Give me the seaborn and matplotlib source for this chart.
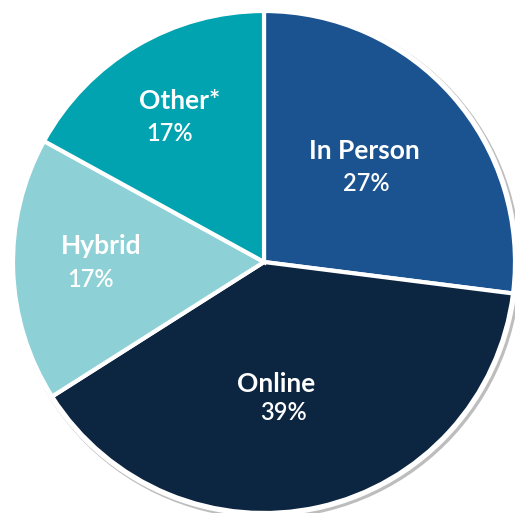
import matplotlib
matplotlib.use('Agg')
import matplotlib.pyplot as plt
import seaborn as sns
from matplotlib.patches import Circle

# data
categories = ['In Person', 'Online', 'Hybrid', 'Other*']
shares = [27, 39, 17, 17]
colors = ['#1B5391', '#0C2540', '#8DD1D6', '#00A3AF']

# label positions (data coords, pie radius = 1)
name_pos = [(0.40, 0.444), (0.048, -0.488), (-0.648, 0.064), (-0.336, 0.64)]
pct_pos = [(0.408, 0.312), (0.076, -0.60), (-0.692, -0.068), (-0.376, 0.512)]

sns.set_theme(style='white')
plt.rcParams['font.family'] = ['Lato', 'DejaVu Sans']

fig = plt.figure(figsize=(5.2, 5.15), dpi=100)
ax = fig.add_axes([13 / 520, 2 / 515, 502 / 520, 502 / 515])

# faint shadow ring
ax.add_patch(Circle((0.008, -0.008), 1.012, color='#bdbdbd', zorder=0))
ax.add_patch(Circle((0, 0), 1.01, color='white', zorder=0.5))

wedges, _ = ax.pie(shares, colors=colors, startangle=90, counterclock=False,
                   radius=1, wedgeprops=dict(edgecolor='white', linewidth=3))

for name, share, (nx, ny), (px, py) in zip(categories, shares, name_pos, pct_pos):
    ax.text(nx, ny, name, color='white', fontsize=19, fontweight='bold',
            ha='center', va='center')
    ax.text(px, py, f'{share}%', color='white', fontsize=17, fontweight='semibold',
            ha='center', va='center')

ax.set_xlim(-1, 1)
ax.set_ylim(-1, 1)
ax.set_aspect('auto')
ax.axis('off')

fig.savefig('out.png', dpi=100)
